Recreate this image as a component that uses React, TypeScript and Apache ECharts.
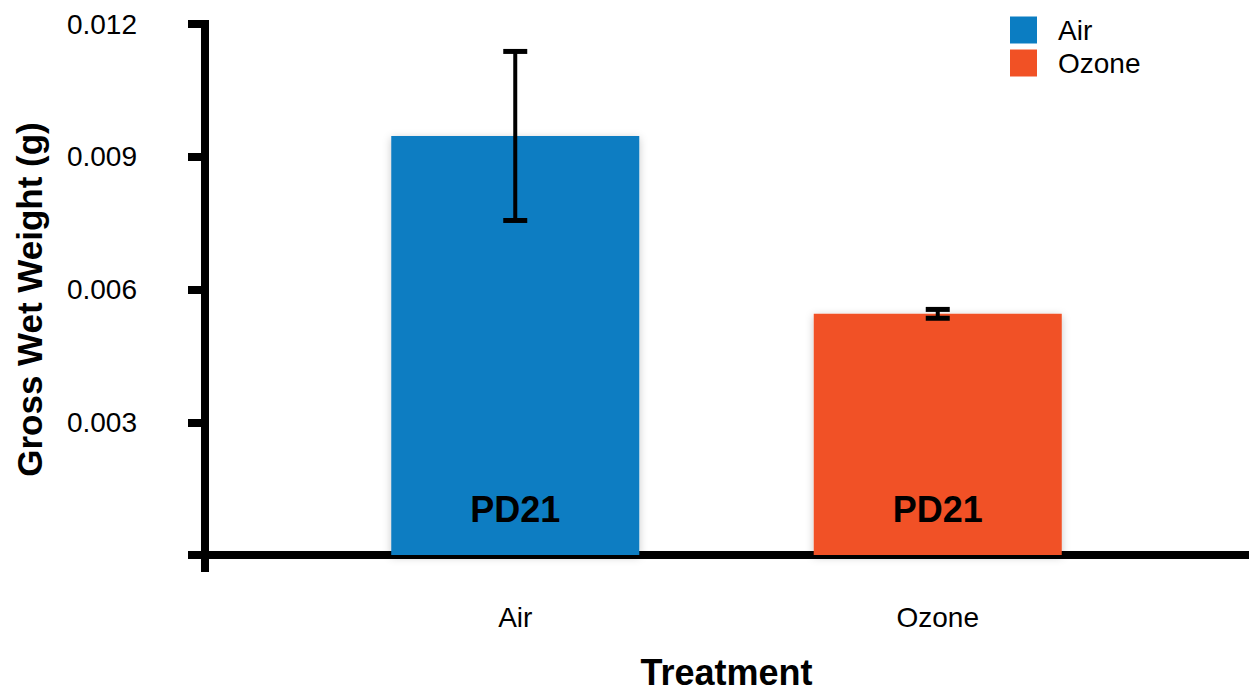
import React, { useEffect, useRef } from "react";
import * as echarts from "echarts";

// Treatment groups and the measured gross wet weight (g)
const categories = ["Air", "Ozone"];
const meanWeight = [0.00947, 0.00545];
const stdError = [0.00191, 0.0001];
const barLabel = "PD21";
const groupColors = ["#0B7DC2", "#F15125"];

const yMin = 0;
const yMax = 0.012;
const yStep = 0.003;

const FONT = "'Liberation Sans', Arial, Helvetica, sans-serif";

export default function App() {
  const ref = useRef<HTMLDivElement>(null);

  useEffect(() => {
    if (!ref.current) return;
    const chart = echarts.init(ref.current, undefined, { renderer: "svg" });

    const barSeries = categories.map((name, i) => ({
      name,
      type: "bar",
      xAxisIndex: 1,
      yAxisIndex: 1,
      barWidth: 248,
      barGap: "-100%",
      data: categories.map((_, j) => (j === i ? meanWeight[i] : null)),
      itemStyle: {
        color: groupColors[i],
        shadowBlur: 8,
        shadowColor: "rgba(0,0,0,0.22)",
        shadowOffsetY: 2,
      },
      label: {
        show: true,
        position: "insideBottom",
        distance: 28,
        formatter: () => barLabel,
        fontFamily: FONT,
        fontSize: 36,
        fontWeight: "bold",
        color: "#000",
      },
      z: 3,
    }));

    const errorData = categories.map((_, i) => [
      i,
      meanWeight[i] - stdError[i],
      meanWeight[i] + stdError[i],
    ]);

    chart.setOption({
      animation: false,
      backgroundColor: "#fff",
      textStyle: { fontFamily: FONT, color: "#000" },
      legend: {
        data: categories,
        orient: "vertical",
        left: 1010,
        top: 16,
        itemWidth: 27,
        itemHeight: 27,
        itemGap: 5,
        icon: "rect",
        padding: 0,
        textStyle: {
          fontFamily: FONT,
          fontSize: 28,
          color: "#000",
          padding: [0, 0, 0, 16],
        },
      },
      grid: [
        // frame grid carrying the visible value axis and baseline
        { left: 205, right: 0, top: 24, bottom: 136, outerBoundsMode: "none", containLabel: false },
        // plotting grid for the bars
        { left: 304, width: 845, top: 24, bottom: 136, outerBoundsMode: "none", containLabel: false },
      ],
      xAxis: [
        {
          gridIndex: 0,
          type: "value",
          min: 0,
          max: 1,
          axisLine: { show: true, lineStyle: { color: "#000", width: 8 } },
          axisTick: {
            show: true,
            customValues: [0],
            length: 17,
            lineStyle: { color: "#000", width: 8 },
          },
          axisLabel: { show: false },
          splitLine: { show: false },
        },
        {
          gridIndex: 1,
          type: "category",
          data: categories,
          axisLine: { show: false },
          axisTick: { show: false },
          axisLabel: {
            fontFamily: FONT,
            fontSize: 28,
            color: "#000",
            margin: 48,
          },
          name: "Treatment",
          nameLocation: "middle",
          nameGap: 99,
          nameTextStyle: {
            fontFamily: FONT,
            fontSize: 36,
            lineHeight: 36,
            fontWeight: "bold",
            color: "#000",
          },
        },
      ],
      yAxis: [
        {
          gridIndex: 0,
          type: "value",
          min: yMin,
          max: yMax,
          interval: yStep,
          axisLine: {
            show: true,
            lineStyle: { color: "#000", width: 8, cap: "square" },
          },
          axisTick: {
            show: true,
            length: 17,
            lineStyle: { color: "#000", width: 8 },
          },
          axisLabel: {
            fontFamily: FONT,
            fontSize: 28,
            color: "#000",
            margin: 68,
            formatter: (v: number) => (v === 0 ? "" : v.toFixed(3)),
          },
          splitLine: { show: false },
          name: "Gross Wet Weight (g)",
          nameLocation: "middle",
          nameGap: 158,
          nameTextStyle: {
            fontFamily: FONT,
            fontSize: 35,
            fontWeight: "bold",
            color: "#000",
            padding: [0, 20, 0, 0],
          },
        },
        {
          gridIndex: 1,
          type: "value",
          min: yMin,
          max: yMax,
          show: false,
        },
      ],
      series: [
        ...barSeries,
        {
          name: "error",
          type: "custom",
          xAxisIndex: 1,
          yAxisIndex: 1,
          z: 5,
          data: errorData,
          renderItem: (params: any, api: any) => {
            const x = api.value(0);
            const lo = api.coord([x, api.value(1)]);
            const hi = api.coord([x, api.value(2)]);
            const half = 12;
            const stroke = { stroke: "#000", lineWidth: 4 };
            const capStroke = { stroke: "#000", lineWidth: 5 };
            return {
              type: "group",
              children: [
                {
                  type: "line",
                  shape: { x1: hi[0], y1: hi[1], x2: lo[0], y2: lo[1] },
                  style: stroke,
                },
                {
                  type: "line",
                  shape: { x1: hi[0] - half, y1: hi[1], x2: hi[0] + half, y2: hi[1] },
                  style: capStroke,
                },
                {
                  type: "line",
                  shape: { x1: lo[0] - half, y1: lo[1], x2: lo[0] + half, y2: lo[1] },
                  style: capStroke,
                },
              ],
            };
          },
        },
      ],
    });

    return () => chart.dispose();
  }, []);

  return (
    <div
      ref={ref}
      style={{ position: "fixed", left: 0, top: 0, width: 1249, height: 691 }}
    />
  );
}
